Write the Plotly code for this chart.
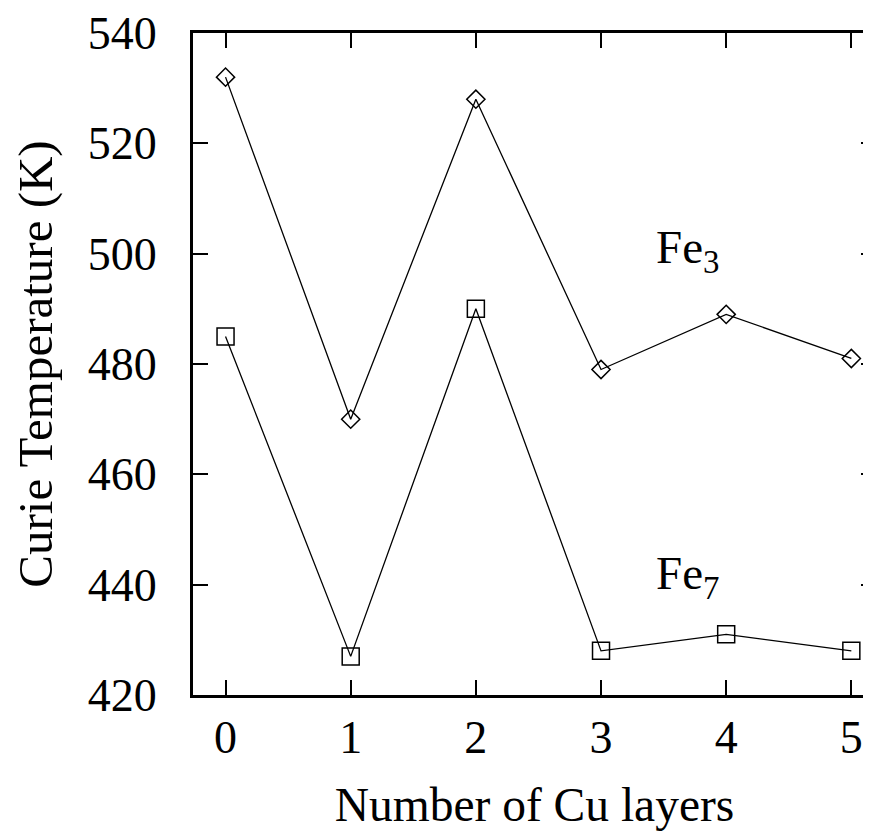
import plotly.graph_objects as go

cu_layers = [0, 1, 2, 3, 4, 5]
fe3_tc = [532, 470, 528, 479, 489, 481]
fe7_tc = [485, 427, 490, 428, 431, 428]
y_ticks = [420, 440, 460, 480, 500, 520, 540]

font_family = "Liberation Serif, Times New Roman, serif"
fs = 46

fig = go.Figure()
fig.add_trace(go.Scatter(
    x=cu_layers, y=fe3_tc, mode="lines+markers",
    line=dict(color="black", width=1.3),
    marker=dict(symbol="diamond-open", size=14, color="black", line=dict(width=1.5)),
    showlegend=False,
))
fig.add_trace(go.Scatter(
    x=cu_layers, y=fe7_tc, mode="lines+markers",
    line=dict(color="black", width=1.3),
    marker=dict(symbol="square-open", size=17, color="black", line=dict(width=1.5)),
    showlegend=False,
))

fig.add_annotation(x=3.69, y=500.5, text="Fe<sub>3</sub>", showarrow=False,
                   font=dict(family=font_family, size=47, color="black"))
fig.add_annotation(x=3.69, y=441.5, text="Fe<sub>7</sub>", showarrow=False,
                   font=dict(family=font_family, size=47, color="black"))

axis_common = dict(
    showgrid=False, zeroline=False,
    showline=True, linecolor="black", linewidth=3, mirror="ticks",
    ticks="inside", ticklen=15, tickwidth=2, tickcolor="black",
    tickfont=dict(family=font_family, size=fs, color="black"),
)

fig.update_xaxes(
    range=[-0.26, 5.197], tickvals=cu_layers, ticklabelstandoff=0,
    title=dict(text="Number of Cu layers", font=dict(family=font_family, size=47.5, color="black"), standoff=26),
    **axis_common,
)
fig.update_yaxes(
    range=[420, 540], tickvals=y_ticks, ticklabelstandoff=24,
    title=dict(text="Curie Temperature (K)", font=dict(family=font_family, size=49, color="black"), standoff=26),
    **axis_common,
)

fig.update_layout(
    width=871, height=831,
    margin=dict(l=185, r=0, t=25, b=144),
    plot_bgcolor="white", paper_bgcolor="white",
)

fig.write_html("out.html")
